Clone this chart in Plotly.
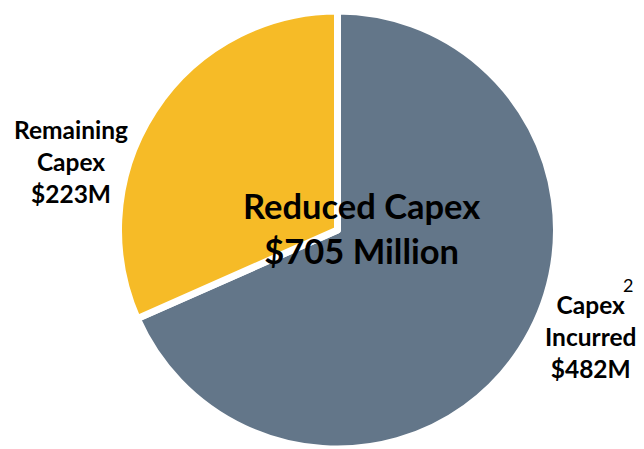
import plotly.graph_objects as go

labels = ["Capex Incurred", "Remaining Capex"]
values = [482, 223]
colors = ["#637689", "#F6BB27"]
center_title = "Reduced Capex"
center_total = "$705 Million"

fig = go.Figure(go.Pie(
    labels=labels, values=values, sort=False, direction="clockwise", rotation=0,
    marker=dict(colors=colors, line=dict(color="white", width=7)),
    textinfo="none", hoverinfo="label+value", showlegend=False,
    domain=dict(x=[118.5/644, 556.5/644], y=[0, 438/449]),
))

font = dict(family="Lato, 'Open Sans', sans-serif", color="black")
common = dict(xref="paper", yref="paper", showarrow=False, xanchor="center", yanchor="middle", align="center")
fig.add_annotation(x=361.5/644, y=1-228/449,
                   text=f"<b>{center_title}<br>{center_total}</b>",
                   font=dict(size=34.5, **font), **common)
fig.add_annotation(x=71/644, y=1-161/449,
                   text=f"<b>Remaining<br>Capex<br>${values[1]}M</b>",
                   font=dict(size=24.5, **font), **common)
fig.add_annotation(x=590/644, y=1-336/449,
                   text=f"<b>Capex<br>Incurred<br>${values[0]}M</b>",
                   font=dict(size=24.5, **font), **common)
fig.add_annotation(x=628/644, y=1-285/449,
                   text="2", font=dict(size=18, **font), **common)

fig.update_layout(width=644, height=449, margin=dict(l=0, r=0, t=0, b=0),
                  paper_bgcolor="white", plot_bgcolor="white")
fig.write_html("out.html")
